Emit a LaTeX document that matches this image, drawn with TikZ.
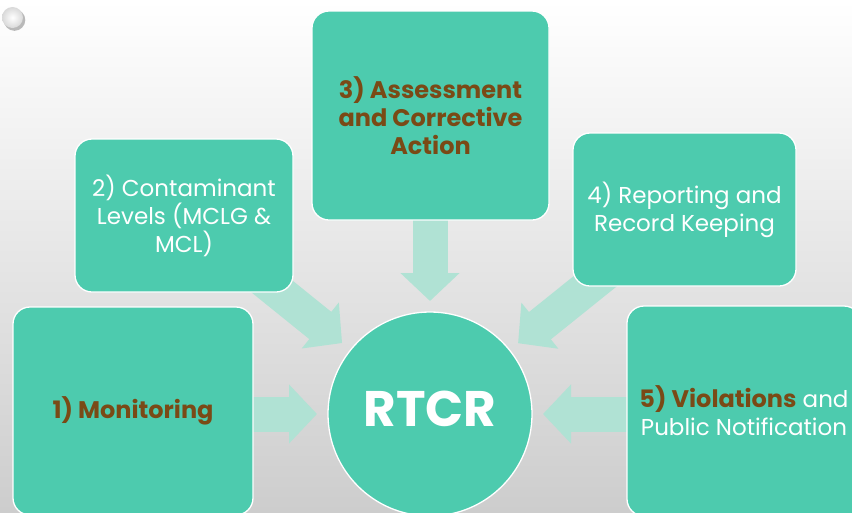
\documentclass[tikz,border=0pt]{standalone}
\usepackage{fontspec}
\setmainfont{Poppins}
\usetikzlibrary{arrows.meta,calc}
\pgfdeclarelayer{back}
\pgfsetlayers{back,main}

\definecolor{boxteal}{HTML}{4DCBAE}
\definecolor{feedteal}{HTML}{B0E2D4}
\definecolor{brownlab}{HTML}{7A4A16}
\definecolor{bgmid}{HTML}{EBEBEB}
\definecolor{bgbottom}{HTML}{CDCDCD}

% bold brown emphasis used inside the panels
\newcommand{\emphlab}[1]{{\color{brownlab}\fontsize{24}{28}\selectfont\bfseries #1}}

\begin{document}
\begin{tikzpicture}[x=1pt,y=-1pt,
  panel/.style={draw=white, line width=1.3pt, fill=boxteal,
    rounded corners=17pt, align=center, inner sep=0pt, outer sep=0pt,
    font=\fontsize{23}{28}\selectfont, text=white},
  hub/.style={circle, draw=white, line width=1.3pt, fill=boxteal,
    minimum size=204pt, inner sep=0pt, outer sep=0pt},
  feed/.style={draw=feedteal, line width=35pt,
    -{Triangle[length=28pt,width=57.5pt]}}]
\useasboundingbox (0,0) rectangle (852,512);

% slide ornament
\fill[gray!55] (14.5,20) circle (10.8);
\shade[inner color=white, outer color=gray!30] (12.5,17.5) circle (10.5);

% the five components around the rule
\node[panel, minimum width=240pt, minimum height=208pt] (mon) at (133,411)
  {\emphlab{1) Monitoring}};
\node[panel, minimum width=218pt, minimum height=153pt] (lev) at (184,215.5)
  {2) Contaminant\\Levels (MCLG \&\\MCL)};
\node[panel, minimum width=237pt, minimum height=209pt] (ass) at (430.5,115.5)
  {\emphlab{3) Assessment}\\\emphlab{and Corrective}\\\emphlab{Action}};
\node[panel, minimum width=223pt, minimum height=153pt] (rep) at (684.5,209.5)
  {4) Reporting and\\Record Keeping};
\node[panel, minimum width=234pt, minimum height=210pt] (vio) at (744,411)
  {\emphlab{5) Violations} and\\Public Notification};

\node[hub] (rtcr) at (430,414) {};
\node[text=white, font=\fontsize{50}{50}\selectfont\bfseries]
  at ($(rtcr.center)+(0,-5.5)$) {RTCR};

% arrow tips just outside the circle
\coordinate (t1) at ($(rtcr.center)+(-113,0)$);
\coordinate (t5) at ($(rtcr.center)+(113,0)$);
\coordinate (t3) at ($(rtcr.center)+(0,-113)$);
\coordinate (t2) at ($(rtcr.center)!113pt!(lev.center)$);
\coordinate (t4) at ($(rtcr.center)!113pt!(rep.center)$);

\begin{pgfonlayer}{back}
  \shade[top color=white, middle color=bgmid, bottom color=bgbottom]
    (0,0) rectangle (852,512);
  \draw[feed] (mon.center |- t1) -- (t1);
  \draw[feed] (vio.center |- t5) -- (t5);
  \draw[feed] (t3 |- ass.center) -- (t3);
  \draw[feed] (lev.center) -- (t2);
  \draw[feed] (rep.center) -- (t4);
\end{pgfonlayer}
\end{tikzpicture}
\end{document}
